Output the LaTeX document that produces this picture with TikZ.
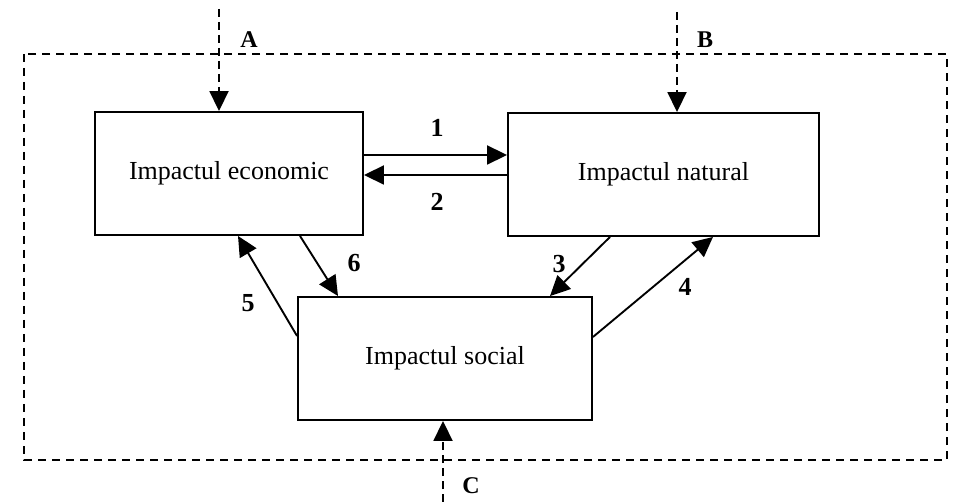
\documentclass[tikz,border=0pt]{standalone}
\usepackage{fontspec}
\setmainfont{Liberation Serif}
\usetikzlibrary{arrows.meta}
\tikzset{
  impactbox/.style={draw, line width=1.9pt, inner sep=0pt, font=\fontsize{26}{30}\selectfont},
  flow/.style={line width=1.9pt, -{Triangle[length=20pt,width=19pt]}},
  inflow/.style={flow, dash pattern=on 8pt off 5pt},
  numlabel/.style={font=\fontsize{26}{30}\selectfont\bfseries, inner sep=0pt},
  letterlabel/.style={font=\fontsize{24}{28}\selectfont\bfseries, inner sep=0pt},
}
\begin{document}
\begin{tikzpicture}[x=1pt,y=-1pt]
\useasboundingbox (0,0) rectangle (953,502);

% system boundary
\draw[line width=1.9pt, dash pattern=on 8pt off 6pt] (24,54) rectangle (947,460);

% the three impact blocks
\node[impactbox, minimum width=268pt, minimum height=123pt] (econ)    at (229,173.5) {Impactul economic};
\node[impactbox, minimum width=311pt, minimum height=123pt] (natural) at (663.5,174.5) {Impactul natural};
\node[impactbox, minimum width=294pt, minimum height=123pt] (social)  at (445,358.5) {Impactul social};

% external influences
\coordinate (aTop) at (219,9);
\coordinate (bTop) at (677,12);
\coordinate (cBot) at (443,502);
\draw[inflow] (aTop) -- (econ.north -| aTop);
\draw[inflow] (bTop) -- (natural.north -| bTop);
\draw[inflow] (cBot) -- (social.south -| cBot);
\node[letterlabel] (la) at (249,40) {A};
\node[letterlabel] (lb) at (705,40) {B};
\node[letterlabel] (lc) at (471,486) {C};

% mutual interactions
\draw[flow] (econ.east |- 0,155) -- (natural.west |- 0,155);
\draw[flow] (natural.west |- 0,175) -- (econ.east |- 0,175);
\draw[flow] (natural.south -| 610,0) -- (social.north -| 550,0);
\draw[flow] (social.east |- 0,337) -- (natural.south -| 713,0);
\draw[flow] (social.west |- 0,336) -- (econ.south -| 238,0);
\draw[flow] (econ.south -| 300,0) -- (social.north -| 338,0);

\node[numlabel] (l1) at (437,128) {1};
\node[numlabel] (l2) at (437,202) {2};
\node[numlabel] (l3) at (559,264) {3};
\node[numlabel] (l4) at (685,287) {4};
\node[numlabel] (l5) at (248,303) {5};
\node[numlabel] (l6) at (354,263) {6};
\end{tikzpicture}
\end{document}
